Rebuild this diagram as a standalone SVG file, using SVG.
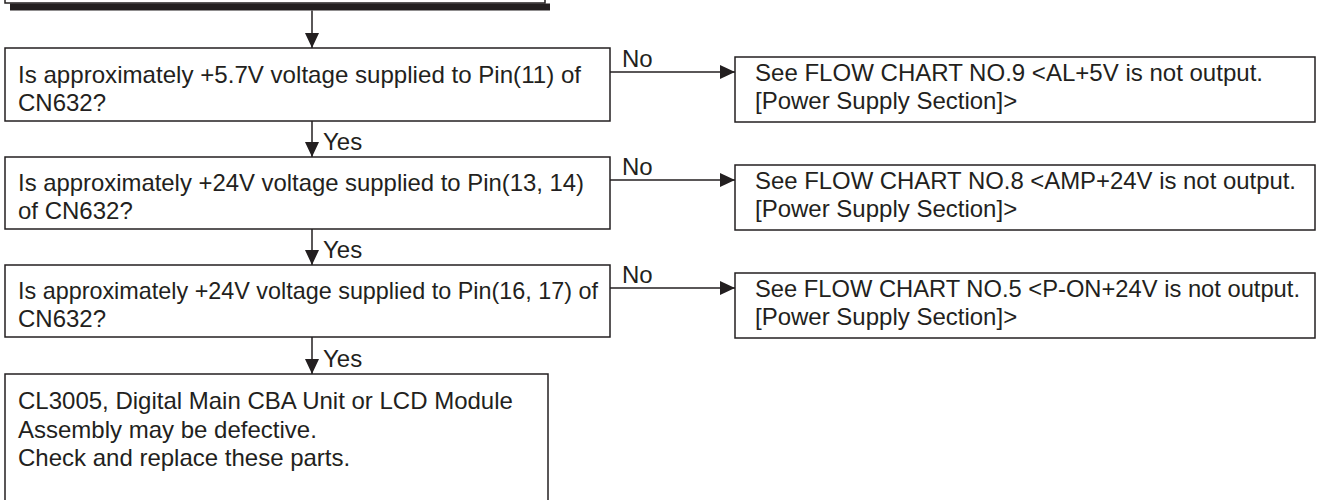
<svg xmlns="http://www.w3.org/2000/svg" width="1322" height="500" viewBox="0 0 1322 500">
<defs>
<style>
.box{fill:#fff;stroke:#231f20;stroke-width:1.5}
.t{font-family:"Liberation Sans",Arial,sans-serif;font-size:24px;fill:#231f20}
.ln{stroke:#231f20;stroke-width:1.5;fill:none}
</style>
<marker id="ah" viewBox="0 0 15 14" refX="15" refY="7" markerWidth="15" markerHeight="14" markerUnits="userSpaceOnUse" orient="auto">
<path d="M0,0 L15,7 L0,14 Z" fill="#231f20"/>
</marker>
</defs>
<rect width="1322" height="500" fill="#fff"/>
<g id="start">
<rect x="10" y="3.5" width="540" height="7" fill="#231f20"/>
<rect class="box" x="5" y="-60" width="540" height="63"/>
</g>
<g id="q1">
<rect class="box" x="5" y="48" width="605" height="73"/>
<text class="t" x="18" y="83" textLength="563" lengthAdjust="spacingAndGlyphs">Is approximately +5.7V voltage supplied to Pin(11) of</text>
<text class="t" x="18" y="111">CN632?</text>
</g>
<g id="r1">
<rect class="box" x="735" y="57" width="580" height="65"/>
<text class="t" x="755" y="81" textLength="508" lengthAdjust="spacingAndGlyphs">See FLOW CHART NO.9 &lt;AL+5V is not output.</text>
<text class="t" x="755" y="109">[Power Supply Section]&gt;</text>
</g>
<g id="q2">
<rect class="box" x="5" y="157" width="605" height="72"/>
<text class="t" x="18" y="191" textLength="566" lengthAdjust="spacingAndGlyphs">Is approximately +24V voltage supplied to Pin(13, 14)</text>
<text class="t" x="18" y="219">of CN632?</text>
</g>
<g id="r2">
<rect class="box" x="735" y="165" width="580" height="65"/>
<text class="t" x="755" y="189" textLength="541" lengthAdjust="spacingAndGlyphs">See FLOW CHART NO.8 &lt;AMP+24V is not output.</text>
<text class="t" x="755" y="217">[Power Supply Section]&gt;</text>
</g>
<g id="q3">
<rect class="box" x="5" y="265" width="605" height="72"/>
<text class="t" x="18" y="299" textLength="580" lengthAdjust="spacingAndGlyphs">Is approximately +24V voltage supplied to Pin(16, 17) of</text>
<text class="t" x="18" y="327">CN632?</text>
</g>
<g id="r3">
<rect class="box" x="735" y="273" width="580" height="65"/>
<text class="t" x="755" y="297" textLength="545" lengthAdjust="spacingAndGlyphs">See FLOW CHART NO.5 &lt;P-ON+24V is not output.</text>
<text class="t" x="755" y="325">[Power Supply Section]&gt;</text>
</g>
<g id="end">
<rect class="box" x="5" y="374" width="543" height="140"/>
<text class="t" x="18" y="409">CL3005, Digital Main CBA Unit or LCD Module</text>
<text class="t" x="18" y="438">Assembly may be defective.</text>
<text class="t" x="18" y="466">Check and replace these parts.</text>
</g>
<g id="connectors">
<line class="ln" x1="312" y1="10.5" x2="312" y2="48" marker-end="url(#ah)"/>
<line class="ln" x1="312" y1="121" x2="312" y2="157" marker-end="url(#ah)"/>
<line class="ln" x1="312" y1="229" x2="312" y2="265" marker-end="url(#ah)"/>
<line class="ln" x1="312" y1="337" x2="312" y2="374" marker-end="url(#ah)"/>
<line class="ln" x1="610" y1="72" x2="735" y2="72" marker-end="url(#ah)"/>
<line class="ln" x1="610" y1="180" x2="735" y2="180" marker-end="url(#ah)"/>
<line class="ln" x1="610" y1="288" x2="735" y2="288" marker-end="url(#ah)"/>
<text class="t" x="323" y="150">Yes</text>
<text class="t" x="323" y="258">Yes</text>
<text class="t" x="323" y="367">Yes</text>
<text class="t" x="622" y="67">No</text>
<text class="t" x="622" y="175">No</text>
<text class="t" x="622" y="283">No</text>
</g>
</svg>
